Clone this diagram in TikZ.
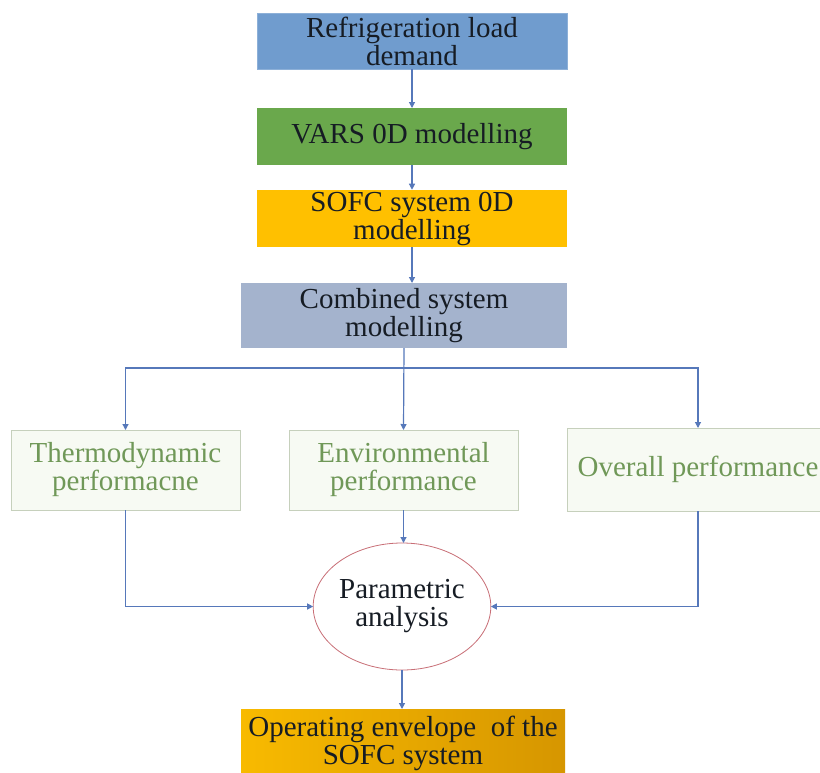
\documentclass[tikz,border=0pt]{standalone}
\usepackage{fontspec}
\setmainfont{Liberation Serif}
\usepackage{xcolor}
\usetikzlibrary{shapes.geometric}
\usetikzlibrary{positioning, arrows.meta}
\definecolor{loadblue}{RGB}{112,156,206}
\definecolor{varsgreen}{RGB}{106,168,76}
\definecolor{sofcgold}{RGB}{255,192,0}
\definecolor{combgrey}{RGB}{164,179,205}
\definecolor{metricgreen}{RGB}{112,152,88}
\definecolor{metricline}{RGB}{198,208,188}
\definecolor{metricfill}{RGB}{247,250,243}
\definecolor{linkblue}{RGB}{86,120,186}
\definecolor{hubred}{RGB}{200,110,118}
\definecolor{envleft}{RGB}{248,186,0}
\definecolor{envright}{RGB}{214,150,0}
\definecolor{inktext}{RGB}{22,28,36}

\begin{document}
\begin{tikzpicture}[x=1pt, y=-1pt,
		stage/.style={rectangle, inner sep=2pt, outer sep=0pt, align=center, text=inktext,
				font=\fontsize{29}{28}\selectfont},
		metric/.style={stage, draw=metricline, line width=0.8pt, fill=metricfill, text=metricgreen,
				minimum width=229pt, minimum height=80pt},
		hub/.style={ellipse, draw=hubred, line width=0.8pt, fill=white, inner sep=0pt, outer sep=0pt,
				align=center, text=inktext, font=\fontsize{29}{28}\selectfont,
				minimum width=166pt, minimum height=127pt},
		link/.style={->, draw=linkblue, line width=1.2pt},
		>={Triangle[width=6pt,length=6pt]}
		]
		\clip (0,0) rectangle (820,772);
		\fill[white] (0,0) rectangle (820,772);
		
		\node[stage, fill=loadblue, draw=loadblue!80!white, minimum width=310pt, minimum height=56pt] (load) at (412,41) {Refrigeration load\\demand};
		\node[stage, fill=varsgreen, minimum width=310pt, minimum height=57pt] (vars) at (412,136.5) {VARS 0D modelling};
		\node[stage, fill=sofcgold, minimum width=310pt, minimum height=57pt] (sofc) at (412,218.5) {SOFC system 0D\\modelling};
		\node[stage, fill=combgrey, minimum width=326pt, minimum height=65pt] (comb) at (404,315.5) {Combined system\\modelling};
		
		\node[metric] (thermo) at (125.5,470) {Thermodynamic\\performacne};
		\node[metric] (env) at (403.5,470) {Environmental\\performance};
		\node[metric, minimum width=262pt, minimum height=83pt] (overall) at (698,469.5) {Overall performance};
		
		\node[hub] (param) at (402,606.5) {Parametric\\analysis};
		\node[stage, left color=envleft, right color=envright, minimum width=324pt, minimum height=68pt] (envelope) at (403,743) {Operating envelope\ \ of the\\SOFC system};
		
		\coordinate (split) at (404,368);
		\draw[link] (load.south) -- (vars.north);
		\draw[link] (vars.south) -- (sofc.north);
		\draw[link] (sofc.south) -- (sofc.south |- comb.north);
		\draw[link] (comb.south) -- (env.north);
		\draw[link] (split) -| (thermo.north);
		\draw[link] (split) -| (overall.north);
		
		\draw[link] (thermo.south) |- (param.west);
		\draw[link] (env.south) -- (env.south |- param.north);
		\draw[link] (overall.south) |- (param.east);
		\draw[link] (param.south) -- (param.south |- envelope.north);
\end{tikzpicture}
\end{document}
